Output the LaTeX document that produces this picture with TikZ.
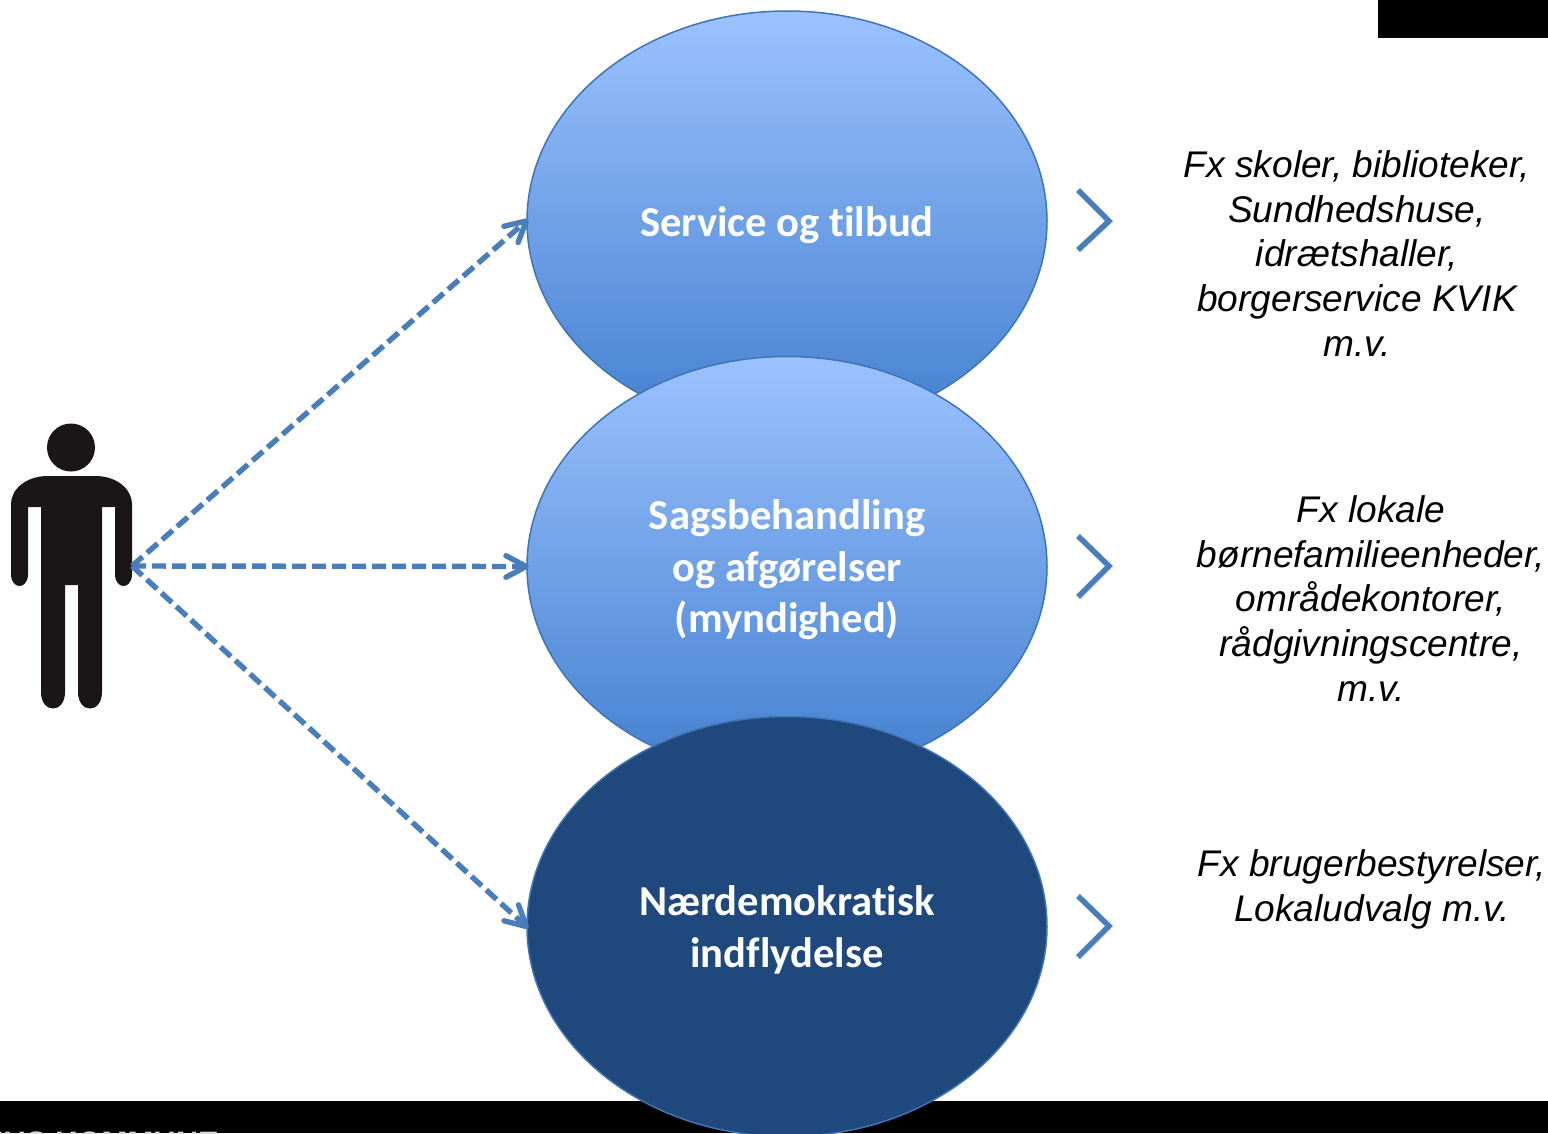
\documentclass[tikz,border=0pt]{standalone}
\usepackage{fontspec}
\setmainfont{Liberation Sans}
\newfontfamily\calib[Ligatures=NoCommon]{Carlito}
\usetikzlibrary{calc,shapes.geometric}
\definecolor{linkblue}{HTML}{4A7EBB}
\definecolor{rimblue}{HTML}{3F74B5}
\definecolor{topblue}{HTML}{9CC2FF}
\definecolor{botblue}{HTML}{4380CF}
\definecolor{deepblue}{HTML}{1F497D}
\definecolor{figure}{HTML}{1A1516}
\tikzset{
  bubble/.style={ellipse,draw=rimblue,line width=1.5pt,minimum width=520pt,minimum height=420pt,inner sep=0pt},
  lightbubble/.style={bubble,top color=topblue,bottom color=botblue},
  darkbubble/.style={bubble,fill=deepblue},
  bubbletext/.style={align=center,text=white,inner sep=0pt,font=\calib\bfseries\fontsize{42.6}{51.5}\selectfont},
  note/.style={align=center,font=\itshape\fontsize{37.1}{44.8}\selectfont,text=black},
  softshadow/.style={preaction={draw=black,draw opacity=.16,transform canvas={shift={(2pt,-2.5pt)}}}},
  dashlink/.style={draw=linkblue,line width=5.4pt,dash pattern=on 14pt off 6pt,shorten >=4pt},
  headline/.style={draw=linkblue,line width=5.4pt,line cap=round,line join=round},
  chevron/.style={draw=linkblue,line width=5.5pt,softshadow},
  bar/.style={fill=black,draw=none}
}
\newcommand{\linkto}[2]{%
  \draw[dashlink] (#1) -- (#2);
  \draw[headline] ($(#2)!23pt!28:(#1)$) -- (#2) -- ($(#2)!23pt!-28:(#1)$);
}
\begin{document}
\begin{tikzpicture}[x=1pt,y=-1pt]
\useasboundingbox (0,0) rectangle (1548,1133);
% black bars
\fill[black] (1378,0) rectangle (1548,38);
\fill[bar] (0,1101) rectangle (1548,1133);
\begin{scope}
  \clip (0,1101) rectangle (1548,1133);
  \node[anchor=base west,inner sep=0pt,text=white!85!black,font=\bfseries\fontsize{31}{31}\selectfont] (footer) at (-19,1153) {HUS KOMMUNE};
\end{scope}
% bubbles
\node[lightbubble] (service) at (787,221) {};
\node[lightbubble] (sag) at (787,566.5) {};
\node[darkbubble] (naer) at (787,926.5) {};
\node[bubbletext] (servicetext) at (787,225) {Service og tilbud};
\node[bubbletext] (sagtext) at (787,570) {Sagsbehandling\\og afgørelser\\(myndighed)};
\node[bubbletext] (naertext) at (787,930) {Nærdemokratisk\\indflydelse};
% person
\fill[figure] (71,447.5) circle[radius=24];
\fill[figure]
  (48,476) -- (95,476)
  .. controls (118,476) and (132,490) .. (132,504)
  -- (132,574) .. controls (132,590) and (115,590) .. (115,574)
  -- (115,507) -- (102,507) -- (102,692)
  .. controls (102,714) and (78,714) .. (78,692)
  -- (78,585) -- (65,585) -- (65,692)
  .. controls (65,714) and (41,714) .. (41,692)
  -- (41,507) -- (28,507) -- (28,574)
  .. controls (28,590) and (11,590) .. (11,574)
  -- (11,504) .. controls (11,490) and (25,476) .. (48,476) -- cycle;
\coordinate (hand) at (132,566);
% connectors
\linkto{hand}{service.west}
\linkto{hand}{sag.west}
\linkto{hand}{naer.west}
% chevrons
\draw[chevron] (1078,190) -- (1109,221) -- (1078,250);
\draw[chevron] (1078,536) -- (1109,566) -- (1078,597);
\draw[chevron] (1078,896) -- (1109,926) -- (1078,957);
% notes
\node[note] (n1) at (1357,253.5) {Fx skoler, biblioteker,\\Sundhedshuse,\\idrætshaller,\\borgerservice KVIK\\m.v.};
\node[note] (n2) at (1371,598.5) {Fx lokale\\børnefamilieenheder,\\områdekontorer,\\rådgivningscentre,\\m.v.};
\node[note] (n3) at (1372,889.5) {Fx brugerbestyrelser,\\Lokaludvalg m.v.};
\end{tikzpicture}
\end{document}
